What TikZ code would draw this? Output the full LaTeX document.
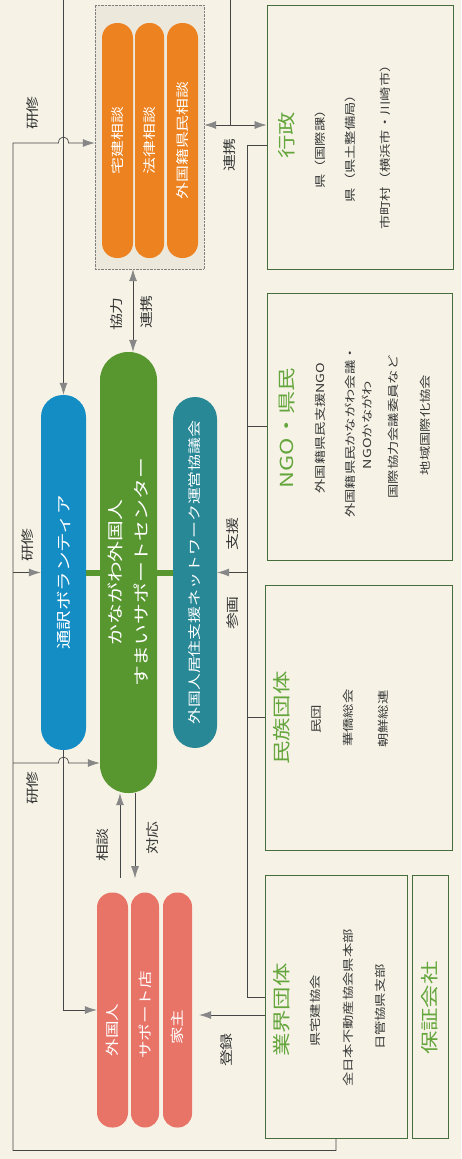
\documentclass[tikz,border=0pt]{standalone}
\usepackage{fontspec}
\setmainfont[FakeStretch=1.3]{Noto Sans CJK JP}
\usepackage{tikz}
\usetikzlibrary{positioning}
\usetikzlibrary{arrows.meta}

\definecolor{paper}{RGB}{246,243,230}
\definecolor{sodanbg}{RGB}{236,232,220}
\definecolor{orangepill}{RGB}{236,130,32}
\definecolor{bluepill}{RGB}{20,140,196}
\definecolor{greenpill}{RGB}{88,150,48}
\definecolor{tealpill}{RGB}{40,136,150}
\definecolor{pinkpill}{RGB}{232,116,104}
\definecolor{boxgreen}{RGB}{70,110,60}
\definecolor{titlegreen}{RGB}{100,165,60}
\definecolor{linegray}{RGB}{70,70,70}
\definecolor{tipgray}{RGB}{135,135,135}
\definecolor{bodygray}{RGB}{55,55,55}

\begin{document}
\begin{tikzpicture}[x=1pt, y=-1pt,
  line/.style={draw=linegray, line width=0.7pt},
  arrow/.style={line, -{Latex[length=12pt,width=8pt,color=tipgray]}},
  twoway/.style={line, {Latex[length=12pt,width=8pt,color=tipgray]}-{Latex[length=12pt,width=8pt,color=tipgray]}},
  pill/.style={rotate=90, text=white, inner sep=0pt},
  box/.style={draw=boxgreen, line width=0.8pt},
  boxtitle/.style={rotate=90, text=titlegreen, font=\fontsize{18}{20}\selectfont},
  body/.style={rotate=90, text=bodygray, font=\fontsize{11}{13}\selectfont},
  linklabel/.style={rotate=90, text=bodygray, font=\fontsize{13}{15}\selectfont}]
\useasboundingbox (0,0) rectangle (461,1159);
\fill[paper] (0,0) rectangle (461,1159);

\node[draw=gray, densely dotted, fill=sodanbg, minimum width=109pt, minimum height=264pt] (sodan) at (149.5,137) {};
\node[pill, fill=orangepill, minimum width=235pt, minimum height=31pt, rounded corners=15pt, font=\fontsize{13}{15}\selectfont] (takken) at (117.5,140.5) {宅建相談};
\node[pill, fill=orangepill, minimum width=235pt, minimum height=29pt, rounded corners=14pt, font=\fontsize{13}{15}\selectfont] (horitsu) at (149.5,140.5) {法律相談};
\node[pill, fill=orangepill, minimum width=235pt, minimum height=31pt, rounded corners=15pt, font=\fontsize{13}{15}\selectfont] (kenmin) at (182.5,140.5) {外国籍県民相談};

\node[pill, fill=bluepill, minimum width=355pt, minimum height=45pt, rounded corners=22pt, font=\fontsize{15}{17}\selectfont] (tsuyaku) at (63.5,572.5) {通訳ボランティア};
\node[pill, fill=greenpill, minimum width=441pt, minimum height=57pt, rounded corners=28pt, align=center, font=\fontsize{16}{26}\selectfont] (sumai) at (128.5,572.5) {かながわ外国人\\すまいサポートセンター};
\node[pill, fill=tealpill, minimum width=351pt, minimum height=44pt, rounded corners=22pt, font=\fontsize{13}{15}\selectfont] (kyogikai) at (195,572.5) {外国人居住支援ネットワーク運営協議会};
\draw[greenpill, line width=6pt] (tsuyaku.south) -- (sumai.north) (sumai.south) -- (kyogikai.north);

\node[pill, fill=pinkpill, minimum width=235pt, minimum height=31pt, rounded corners=15pt, font=\fontsize{13.5}{15}\selectfont] (gaikokujin) at (112.5,1010) {外国人\hspace*{40pt}};
\node[pill, fill=pinkpill, minimum width=235pt, minimum height=28pt, rounded corners=14pt, font=\fontsize{13.5}{15}\selectfont] (supportten) at (145,1010) {サポート店\hspace*{10pt}};
\node[pill, fill=pinkpill, minimum width=235pt, minimum height=29pt, rounded corners=14pt, font=\fontsize{13.5}{15}\selectfont] (yanushi) at (177.5,1010) {家主\hspace*{34pt}};

\node[box, minimum width=186pt, minimum height=264pt] (gyosei) at (360,137) {};
\node[box, minimum width=185pt, minimum height=267pt] (ngo) at (359.5,426.5) {};
\node[box, minimum width=187pt, minimum height=265pt] (minzoku) at (358.5,717.5) {};
\node[box, minimum width=142pt, minimum height=263pt] (gyokai) at (336,1006.5) {};
\node[box, minimum width=36pt, minimum height=263pt] (hosho) at (430,1006.5) {};

\node[boxtitle] (t1) at (287,135) {行政};
\node[body] (g1) at (320,146) {県（国際課）};
\node[body] (g2) at (350,145) {県（県土整備局）};
\node[body] (g3) at (385,144) {市町村（横浜市・川崎市）};
\node[boxtitle] (t2) at (287,428) {NGO・県民};
\node[body] (n1) at (320,428) {外国籍県民支援NGO};
\node[body] (n2) at (350,432) {外国籍県民かながわ会議・};
\node[body] (n3) at (367,425) {NGOかながわ};
\node[body] (n4) at (393,427) {国際協力会議委員など};
\node[body] (n5) at (425,425) {地域国際化協会};
\node[boxtitle] (t3) at (282,718) {民族団体};
\node[body] (m1) at (317,719) {民団};
\node[body] (m2) at (348,718) {華僑総会};
\node[body] (m3) at (383,719) {朝鮮総連};
\node[boxtitle] (t4) at (282,1010) {業界団体};
\node[body] (k1) at (315,1011) {県宅建協会};
\node[body] (k2) at (348,1008) {全日本不動産協会県本部};
\node[body] (k3) at (380,1007) {日管協県支部};
\node[boxtitle] (t5) at (430,1008) {保証会社};

\coordinate (topA) at (230,0);
\coordinate (topB) at (63.5,0);
\coordinate (trunk) at (248,0);
\coordinate (outer) at (13,763);

\draw[line] (topA) -- ++(0,125);
\draw[twoway] ([yshift=12pt]sodan.east) -- ([yshift=12pt]gyosei.west);
\draw[line] (gyosei.west) ++(0,8) -- ++(-19,0) |- ([yshift=9.5pt]gyokai.west);
\draw[line] (trunk |- ngo.west) -- (ngo.west);
\draw[line] (trunk |- minzoku.west) -- (minzoku.west);
\draw[arrow] (trunk |- kyogikai.south) -- (kyogikai.south);
\draw[arrow, shorten >=7pt] ([yshift=-8.5pt]gyokai.west) -- ([yshift=-5pt]yanushi.south);

\draw[arrow] (gyokai.south) -- ++(0,12) -| (13,143) -- (58.5,143) .. controls (58.5,135) and (68.5,135) .. (68.5,143) -- ([yshift=-6pt]sodan.west);
\draw[arrow] (outer |- tsuyaku.north) -- (tsuyaku.north);
\draw[arrow] (outer) -- (58.5,763) .. controls (58.5,755) and (68.5,755) .. (68.5,763) -- (sumai.north |- outer);
\draw[arrow] (topB) -- (tsuyaku.east);
\draw[arrow] (tsuyaku.west) |- (gaikokujin.north);

\draw[twoway] (sodan.south) ++(-16.5,0) -- ([xshift=4.5pt]sumai.east);
\draw[arrow] (sumai.west) ++(-8.5,85) -- ([xshift=-8.5pt]sumai.west);
\draw[arrow] ([xshift=6.5pt]sumai.west) -- ++(0,85);

\node[linklabel] (r1) at (33,113) {研修};
\node[linklabel] (r2) at (28,545) {研修};
\node[linklabel] (r3) at (33,788) {研修};
\node[linklabel] (r4) at (230,155) {連携};
\node[linklabel] (r5) at (117,314) {協力};
\node[linklabel] (r6) at (147,312) {連携};
\node[linklabel] (r7) at (233,534) {支援};
\node[linklabel] (r8) at (233,613) {参画};
\node[linklabel] (r9) at (103,845) {相談};
\node[linklabel] (r10) at (153,838) {対応};
\node[linklabel] (r11) at (227,1050) {登録};
\end{tikzpicture}
\end{document}
